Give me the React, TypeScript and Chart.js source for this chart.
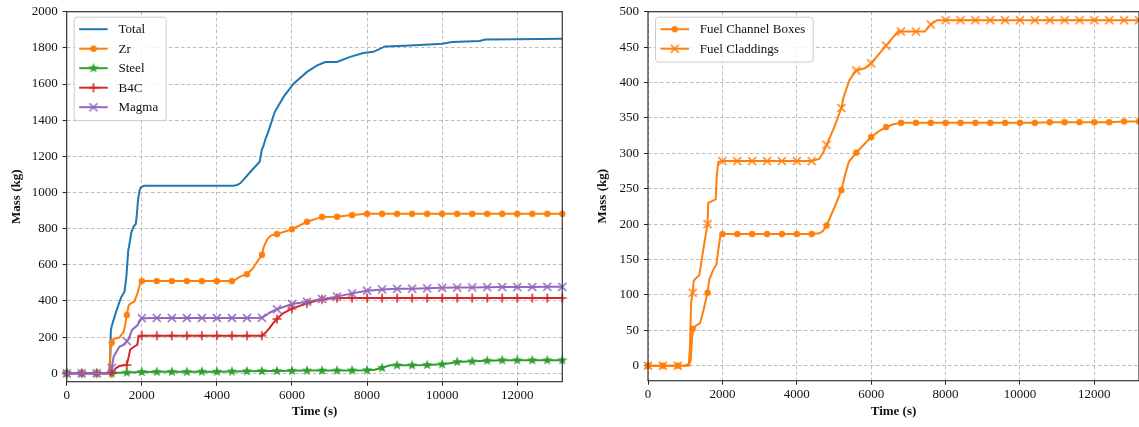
import React, { useEffect, useRef } from 'react';
import { Chart, registerables } from 'chart.js';

Chart.register(...registerables);

const FONT = "'Liberation Serif', 'Times New Roman', serif";

// ---------- tick labels ----------
const xTicks = [0, 2000, 4000, 6000, 8000, 10000, 12000];
const leftYTicks = [0, 200, 400, 600, 800, 1000, 1200, 1400, 1600, 1800, 2000];
const rightYTicks = [0, 50, 100, 150, 200, 250, 300, 350, 400, 450, 500];

// ---------- left chart series: [time (s), mass (kg)] ----------
const totalData: [number, number][] = [
  [0, 0], [1100, 0], [1150, 5], [1175, 235], [1200, 262], [1300, 330], [1390, 385], [1450, 420],
  [1540, 452], [1590, 535], [1640, 682], [1660, 700], [1720, 778], [1790, 815], [1840, 825],
  [1870, 880], [1900, 960], [1940, 1010], [1970, 1028], [2060, 1037], [3000, 1037], [4000, 1037],
  [4450, 1037], [4550, 1042], [4630, 1052], [4900, 1116], [5140, 1170], [5200, 1240], [5230, 1250],
  [5300, 1300], [5360, 1330], [5470, 1400], [5540, 1445], [5780, 1530], [6050, 1603], [6400, 1667],
  [6670, 1703], [6890, 1722], [7200, 1722], [7550, 1750], [7900, 1772], [8170, 1778], [8480, 1808],
  [9000, 1812], [9770, 1820], [10000, 1823], [10260, 1832], [11000, 1838], [11150, 1846],
  [12000, 1848], [13200, 1850],
];

const zrData: [number, number][] = [
  [0, 0], [400, 0], [800, 0], [1100, 0], [1140, 40], [1180, 150], [1200, 170], [1250, 190],
  [1400, 198], [1520, 230], [1560, 270], [1600, 322], [1650, 375], [1700, 385], [1800, 396],
  [1880, 440], [1950, 492], [2000, 510], [2400, 510], [2800, 510], [3200, 510], [3600, 510],
  [4000, 510], [4400, 510], [4500, 518], [4600, 533], [4800, 548], [4950, 578], [5100, 625],
  [5200, 655], [5250, 700], [5350, 745], [5450, 763], [5600, 770], [6000, 797], [6400, 838],
  [6800, 865], [7200, 866], [7600, 875], [8000, 882], [8400, 882], [8800, 882], [9200, 882],
  [9600, 882], [10000, 882], [10400, 882], [10800, 882], [11200, 882], [11600, 882], [12000, 882],
  [12400, 882], [12800, 882], [13200, 882],
];

const steelData: [number, number][] = [
  [0, 0], [400, 0], [800, 0], [1200, 0], [1400, 3], [1600, 4], [2000, 7], [2400, 8], [2800, 8],
  [3200, 8], [3600, 9], [4000, 9], [4400, 10], [4800, 11], [5200, 12], [5600, 13], [6000, 14],
  [6400, 15], [6800, 15], [7200, 15], [7600, 16], [8000, 17], [8200, 20], [8400, 30], [8600, 44],
  [8800, 44], [9200, 44], [9600, 46], [10000, 50], [10200, 55], [10400, 63], [10800, 66],
  [11200, 70], [11600, 72], [12000, 72], [12400, 72], [12800, 72], [13200, 72],
];

const b4cData: [number, number][] = [
  [0, 0], [400, 0], [800, 0], [1200, 0], [1250, 10], [1300, 27], [1400, 40], [1600, 46],
  [1650, 90], [1690, 130], [1790, 147], [1880, 157], [1910, 200], [1960, 207], [2000, 208],
  [2400, 208], [2800, 208], [3200, 208], [3600, 208], [4000, 208], [4400, 208], [4800, 208],
  [5200, 208], [5300, 225], [5400, 250], [5500, 278], [5600, 300], [5750, 330], [6000, 358],
  [6400, 387], [6800, 409], [7200, 416], [7600, 416], [8000, 416], [8400, 416], [8800, 416],
  [9200, 416], [9600, 416], [10000, 416], [10400, 416], [10800, 416], [11200, 416], [11600, 416],
  [12000, 416], [12400, 416], [12800, 416], [13200, 416],
];

const magmaData: [number, number][] = [
  [0, 0], [400, 0], [800, 0], [1100, 0], [1200, 30], [1250, 92], [1400, 147], [1540, 160],
  [1600, 178], [1650, 190], [1740, 240], [1890, 267], [1960, 295], [2000, 305], [2400, 306],
  [2800, 306], [3200, 306], [3600, 306], [4000, 306], [4400, 306], [4800, 306], [5200, 307],
  [5300, 320], [5400, 335], [5600, 354], [6000, 383], [6400, 396], [6800, 411], [7200, 424],
  [7600, 442], [8000, 457], [8400, 464], [8800, 467], [9200, 468], [9600, 470], [10000, 473],
  [10400, 474], [10800, 475], [11200, 476], [11600, 477], [12000, 477], [12400, 477], [12800, 478],
  [13200, 478],
];

// ---------- right chart series ----------
const boxesData: [number, number][] = [
  [0, 0], [400, 0], [800, 0], [1100, 0], [1150, 8], [1190, 45], [1200, 52], [1300, 57],
  [1400, 60], [1500, 80], [1600, 103], [1650, 122], [1750, 135], [1840, 143], [1880, 160],
  [1950, 185], [2000, 186], [2400, 186], [2800, 186], [3200, 186], [3600, 186], [4000, 186],
  [4400, 186], [4600, 187], [4700, 190], [4800, 198], [5000, 222], [5200, 248], [5300, 270],
  [5400, 288], [5600, 301], [5800, 312], [6000, 323], [6200, 331], [6400, 337], [6600, 341],
  [6800, 343], [7200, 343], [7600, 343], [8000, 343], [8400, 343], [8800, 343], [9200, 343],
  [9600, 343], [10000, 343], [10400, 343], [10800, 344], [11200, 344], [11600, 344], [12000, 344],
  [12400, 344], [12800, 345], [13200, 345],
];

const claddingsData: [number, number][] = [
  [0, 0], [400, 0], [800, 0], [1000, 0], [1100, 3], [1130, 30], [1160, 90], [1200, 103],
  [1230, 120], [1280, 123], [1380, 128], [1430, 145], [1520, 175], [1600, 200], [1620, 230],
  [1820, 235], [1850, 270], [1890, 288], [2000, 289], [2400, 289], [2800, 289], [3200, 289],
  [3600, 289], [4000, 289], [4400, 289], [4600, 292], [4700, 300], [4800, 312], [5000, 336],
  [5200, 364], [5250, 378], [5420, 404], [5600, 417], [5830, 420], [6000, 427], [6400, 452],
  [6720, 472], [6800, 472], [7200, 472], [7440, 472], [7600, 482], [7780, 488], [8000, 488],
  [8400, 488], [8800, 488], [9200, 488], [9600, 488], [10000, 488], [10400, 488], [10800, 488],
  [11200, 488], [11600, 488], [12000, 488], [12400, 488], [12800, 488], [13200, 488],
];

const COLORS = {
  blue: '#1f77b4',
  orange: '#ff7f0e',
  green: '#2ca02c',
  red: '#d62728',
  purple: '#9467bd',
};

function makeMarker(kind: string, color: string): HTMLCanvasElement {
  const c = document.createElement('canvas');
  c.width = 14;
  c.height = 14;
  const g = c.getContext('2d')!;
  g.translate(7, 7);
  g.fillStyle = color;
  g.strokeStyle = color;
  g.lineWidth = 1.6;
  if (kind === 'circle') {
    g.beginPath();
    g.arc(0, 0, 3.2, 0, Math.PI * 2);
    g.fill();
  } else if (kind === 'star') {
    g.beginPath();
    for (let i = 0; i < 10; i++) {
      const r = i % 2 === 0 ? 5.4 : 2.2;
      const a = -Math.PI / 2 + (i * Math.PI) / 5;
      g.lineTo(r * Math.cos(a), r * Math.sin(a));
    }
    g.closePath();
    g.fill();
  } else if (kind === 'plus') {
    g.beginPath();
    g.moveTo(-4.5, 0);
    g.lineTo(4.5, 0);
    g.moveTo(0, -4.5);
    g.lineTo(0, 4.5);
    g.stroke();
  } else if (kind === 'x') {
    g.beginPath();
    g.moveTo(-4, -4);
    g.lineTo(4, 4);
    g.moveTo(-4, 4);
    g.lineTo(4, -4);
    g.stroke();
  }
  return c;
}

type LegendItem = { label: string; color: string; marker: HTMLCanvasElement | null };

function legendPlugin(items: LegendItem[]) {
  return {
    id: 'mplLegend',
    afterDraw(chart: any) {
      const { ctx, chartArea: a } = chart;
      ctx.save();
      ctx.font = `13px ${FONT}`;
      let maxW = 0;
      items.forEach((it) => {
        maxW = Math.max(maxW, ctx.measureText(it.label).width);
      });
      const x = a.left + 7.5;
      const y = a.top + 5.5;
      const w = 44.3 + maxW + 8;
      const h = 25.4 + (items.length - 1) * 19.5;
      ctx.beginPath();
      (ctx as any).roundRect(x, y, w, h, 3);
      ctx.fillStyle = 'rgba(255,255,255,0.85)';
      ctx.fill();
      ctx.strokeStyle = '#cccccc';
      ctx.lineWidth = 1;
      ctx.stroke();
      items.forEach((it, i) => {
        const cy = y + 12 + i * 19.5;
        ctx.beginPath();
        ctx.strokeStyle = it.color;
        ctx.lineWidth = 2;
        ctx.moveTo(x + 5, cy);
        ctx.lineTo(x + 33.5, cy);
        ctx.stroke();
        if (it.marker) {
          ctx.drawImage(it.marker, x + 19.25 - 7, cy - 7);
        }
        ctx.fillStyle = '#111';
        ctx.textBaseline = 'middle';
        ctx.textAlign = 'left';
        ctx.fillText(it.label, x + 44.3, cy + 0.5);
      });
      ctx.restore();
    },
  };
}

const framePlugin = {
  id: 'frame',
  afterDatasetsDraw(chart: any) {
    const { ctx, chartArea: a } = chart;
    ctx.save();
    ctx.strokeStyle = '#333';
    ctx.lineWidth = 1.2;
    ctx.strokeRect(a.left, a.top, a.right - a.left, a.bottom - a.top);
    ctx.restore();
  },
};

function dataset(label: string, data: [number, number][], color: string, marker: HTMLCanvasElement | null, order: number) {
  return {
    label,
    data: data.map(([x, y]) => ({ x, y })),
    borderColor: color,
    backgroundColor: color,
    borderWidth: 2,
    tension: 0,
    order,
    clip: false as any,
    pointStyle: marker || 'circle',
    pointRadius: (ctx: any) => {
      if (!marker) return 0;
      const r = ctx.raw;
      return r && r.x % 400 === 0 ? 4 : 0;
    },
    pointHoverRadius: 0,
    pointHitRadius: 0,
  };
}

function makeOptions(p: {
  yMin: number;
  yMax: number;
  yTicks: number[];
  yWidth: number;
  yTitlePad: number;
  xHeight: number;
  padRight: number;
}) {
  const gridCommon = {
    color: '#b5b5b5',
    lineWidth: 0.9,
    drawTicks: true,
    tickLength: 4,
    tickColor: '#222',
    tickWidth: 1,
    tickBorderDash: [],
  };
  return {
    responsive: false,
    animation: false as const,
    events: [] as any[],
    layout: { autoPadding: false, padding: { left: 0, right: p.padRight, top: 11.7, bottom: 0 } },
    plugins: { legend: { display: false }, tooltip: { enabled: false } },
    scales: {
      x: {
        type: 'linear' as const,
        min: 0,
        max: 13200,
        afterBuildTicks: (s: any) => {
          s.ticks = xTicks.map((v) => ({ value: v }));
        },
        afterFit: (s: any) => {
          s.height = p.xHeight;
          s.paddingLeft = 0;
          s.paddingRight = 0;
        },
        grid: gridCommon,
        border: { display: false, dash: [3.5, 2.5] },
        ticks: {
          font: { family: FONT, size: 13 },
          color: '#111',
          padding: 2,
          maxRotation: 0,
          autoSkip: false,
          callback: (v: any) => String(v),
        },
        title: {
          display: true,
          text: 'Time (s)',
          font: { family: FONT, size: 13, weight: 'bold' as const },
          color: '#111',
          padding: { top: 0, bottom: 8 },
        },
      },
      y: {
        type: 'linear' as const,
        min: p.yMin,
        max: p.yMax,
        afterBuildTicks: (s: any) => {
          s.ticks = p.yTicks.map((v) => ({ value: v }));
        },
        afterFit: (s: any) => {
          s.width = p.yWidth;
          s.paddingTop = 0;
          s.paddingBottom = 0;
        },
        grid: gridCommon,
        border: { display: false, dash: [3.5, 2.5] },
        ticks: {
          font: { family: FONT, size: 13 },
          color: '#111',
          padding: 5,
          autoSkip: false,
          callback: (v: any) => String(v),
        },
        title: {
          display: true,
          text: 'Mass (kg)',
          font: { family: FONT, size: 13, weight: 'bold' as const },
          color: '#111',
          padding: { top: p.yTitlePad, bottom: 0 },
        },
      },
    },
  };
}

export default function App() {
  const leftRef = useRef<HTMLCanvasElement>(null);
  const rightRef = useRef<HTMLCanvasElement>(null);

  useEffect(() => {
    Chart.defaults.font.family = FONT;
    const mCircle = makeMarker('circle', COLORS.orange);
    const mStar = makeMarker('star', COLORS.green);
    const mPlus = makeMarker('plus', COLORS.red);
    const mX = makeMarker('x', COLORS.purple);
    const mXo = makeMarker('x', COLORS.orange);

    const left = new Chart(leftRef.current!, {
      type: 'line',
      data: {
        datasets: [
          dataset('Total', totalData, COLORS.blue, null, 0),
          dataset('Zr', zrData, COLORS.orange, mCircle, -1),
          dataset('Steel', steelData, COLORS.green, mStar, -2),
          dataset('B4C', b4cData, COLORS.red, mPlus, -3),
          dataset('Magma', magmaData, COLORS.purple, mX, -4),
        ] as any,
      },
      options: makeOptions({
        yMin: -46.5,
        yMax: 2000,
        yTicks: leftYTicks,
        yWidth: 66.7,
        yTitlePad: 9,
        xHeight: 427 - 381.7,
        padRight: 570 - 562.3,
      }) as any,
      plugins: [
        framePlugin,
        legendPlugin([
          { label: 'Total', color: COLORS.blue, marker: null },
          { label: 'Zr', color: COLORS.orange, marker: mCircle },
          { label: 'Steel', color: COLORS.green, marker: mStar },
          { label: 'B4C', color: COLORS.red, marker: mPlus },
          { label: 'Magma', color: COLORS.purple, marker: mX },
        ]),
      ],
    });

    const right = new Chart(rightRef.current!, {
      type: 'line',
      data: {
        datasets: [
          dataset('Fuel Channel Boxes', boxesData, COLORS.orange, mCircle, 0),
          dataset('Fuel Claddings', claddingsData, COLORS.orange, mXo, -1),
        ] as any,
      },
      options: makeOptions({
        yMin: -21.2,
        yMax: 500,
        yTicks: rightYTicks,
        yWidth: 78,
        yTitlePad: 25.2,
        xHeight: 427 - 380.7,
        padRight: 0,
      }) as any,
      plugins: [
        framePlugin,
        legendPlugin([
          { label: 'Fuel Channel Boxes', color: COLORS.orange, marker: mCircle },
          { label: 'Fuel Claddings', color: COLORS.orange, marker: mXo },
        ]),
      ],
    });

    return () => {
      left.destroy();
      right.destroy();
    };
  }, []);

  return (
    <div style={{ position: 'fixed', left: 0, top: 0, width: 1139, height: 427, background: '#fff', overflow: 'hidden' }}>
      <canvas ref={leftRef} width={570} height={427} style={{ position: 'absolute', left: 0, top: 0 }} />
      <canvas ref={rightRef} width={569} height={427} style={{ position: 'absolute', left: 570, top: 0 }} />
    </div>
  );
}
